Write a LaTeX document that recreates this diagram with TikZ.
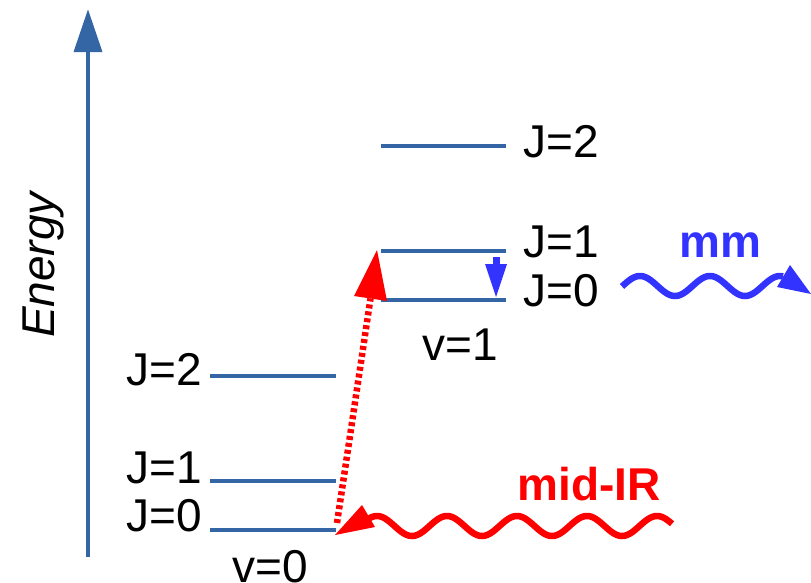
\documentclass[tikz,border=0pt]{standalone}
\usepackage{fontspec}
\setmainfont{Liberation Sans}
\definecolor{lvlblue}{RGB}{52,101,164}
\definecolor{mmblue}{RGB}{51,51,255}
\definecolor{irred}{RGB}{255,0,0}
\begin{document}
\begin{tikzpicture}[x=1pt,y=-1pt,
  lvl/.style={line width=3.5pt, draw=lvlblue},
  lbl/.style={inner sep=0pt, font=\fontsize{46}{52}\selectfont},
  boldlbl/.style={inner sep=0pt, font=\fontsize{46}{52}\selectfont\bfseries},
  wave/.style={line width=6.5pt},
  tip/.style={draw=none}]
\useasboundingbox (0,0) rectangle (811,582);

% energy axis
\coordinate (axbot) at (88,557);
\coordinate (axbase) at (88,50);
\coordinate (axtip) at (88,9.5);
\draw[line width=4pt, lvlblue] (axbot) -- (axbase);
\fill[lvlblue] (axtip) -- (73.5,52) -- (102.5,52) -- cycle;
\node[lbl, rotate=90, font=\fontsize{46}{52}\selectfont\itshape] (energy) at (43,265) {Energy};

% v=0 levels
\coordinate (a0l) at (210,530); \coordinate (a0r) at (336,530);
\coordinate (a1l) at (210,481); \coordinate (a1r) at (336,481);
\coordinate (a2l) at (210,376); \coordinate (a2r) at (336,376);
\draw[lvl] (a0l) -- (a0r);
\draw[lvl] (a1l) -- (a1r);
\draw[lvl] (a2l) -- (a2r);
\node[lbl] (ja2) at (164,370) {J=2};
\node[lbl] (ja1) at (164,468) {J=1};
\node[lbl] (ja0) at (164,516) {J=0};
\node[lbl] (v0) at (270,567) {v=0};

% v=1 levels
\coordinate (b0l) at (381,300); \coordinate (b0r) at (506,300);
\coordinate (b1l) at (381,251); \coordinate (b1r) at (506,251);
\coordinate (b2l) at (381,146); \coordinate (b2r) at (506,146);
\draw[lvl] (b0l) -- (b0r);
\draw[lvl] (b1l) -- (b1r);
\draw[lvl] (b2l) -- (b2r);
\node[lbl] (jb2) at (561,142) {J=2};
\node[lbl] (jb1) at (561,242) {J=1};
\node[lbl] (jb0) at (561,291) {J=0};
\node[lbl] (v1) at (460,345) {v=1};

% red dotted excitation arrow
\coordinate (exstart) at (337,523);
\coordinate (exbase) at (370.5,298.5);
\coordinate (extip) at (377,250);
\draw[irred, line width=6.5pt, dash pattern=on 4pt off 3pt] (exstart) -- (exbase);
\fill[irred] (extip) -- (354,296) -- (387,301) -- cycle;

% blue small decay arrow
\coordinate (dtop) at (496,257);
\coordinate (dbase) at (496,265);
\coordinate (dtip) at (496,297);
\draw[mmblue, line width=7pt] (dtop) -- (dbase);
\fill[mmblue] (dtip) -- (485,264) -- (507,264) -- cycle;

% mid-IR wave
\draw[irred, wave] plot[domain=368:672, samples=200] (\x, {526-10*cos((\x-377)*5.142857)});
\coordinate (irtip) at (335,535);
\fill[irred] (irtip) -- (362,505) -- (375,527) -- cycle;
\node[boldlbl, text=irred] (midir) at (589,484) {mid-IR};

% mm wave
\draw[mmblue, wave] plot[domain=622:783, samples=150] (\x, {286-10*cos((\x-640)*5.142857)});
\coordinate (mmtip) at (811,294);
\fill[mmblue] (mmtip) -- (790,265) -- (777,287) -- cycle;
\node[boldlbl, text=mmblue] (mm) at (720,245) {mm};
\end{tikzpicture}
\end{document}
